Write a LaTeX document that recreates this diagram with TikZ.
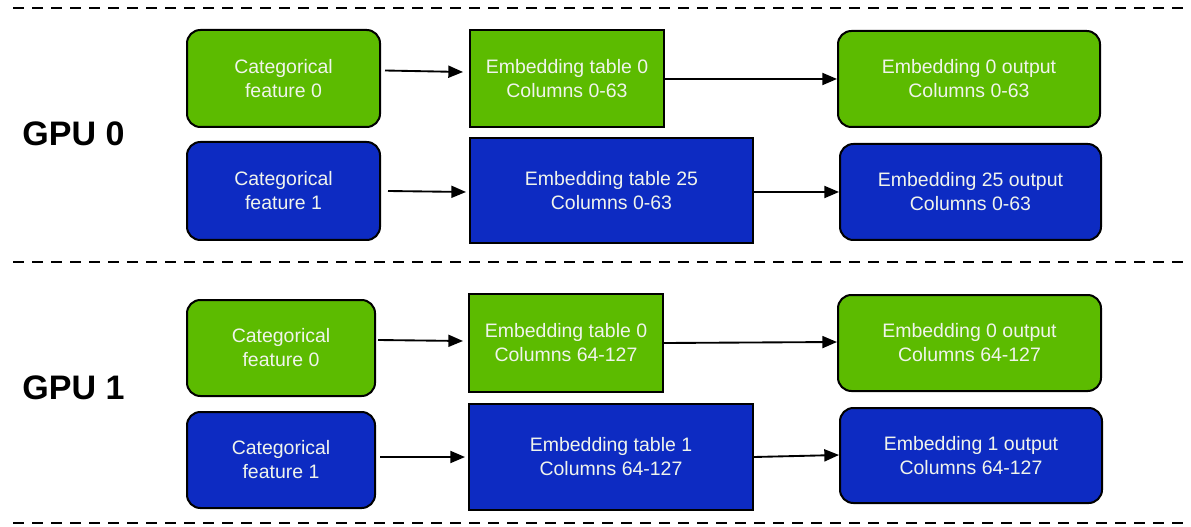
\documentclass[tikz,border=0pt]{standalone}
\usepackage{fontspec}
\setmainfont{Liberation Sans}
\usetikzlibrary{arrows.meta}
\definecolor{nvgreen}{RGB}{92,187,0}
\definecolor{nvblue}{RGB}{13,43,194}
\definecolor{boxtext}{RGB}{240,244,236}
\tikzset{
  box/.style={draw=black, line width=1.5pt, text=boxtext, align=center,
    inner sep=0pt, font=\fontsize{14.6pt}{18pt}\selectfont},
  roundbox/.style={box, rounded corners=10pt},
  greenfill/.style={fill=nvgreen},
  bluefill/.style={fill=nvblue},
  arr/.style={line width=1.4pt, -{Triangle[length=11pt,width=9pt]}},
  divider/.style={line width=1.6pt, dash pattern=on 8.25pt off 6pt},
  gpulabel/.style={font=\fontsize{25.5pt}{30pt}\selectfont\bfseries}
}
\begin{document}
\begin{tikzpicture}[x=0.75pt,y=-0.75pt]
\useasboundingbox (0,0) rectangle (1191,527);

% section dividers
\coordinate (d0l) at (13,8);    \coordinate (d0r) at (1183,8);
\coordinate (d1l) at (13,262);  \coordinate (d1r) at (1183,262);
\coordinate (d2l) at (13,523);  \coordinate (d2r) at (1183,523);
\draw[divider] (d0l) -- (d0r);
\draw[divider] (d1l) -- (d1r);
\draw[divider] (d2l) -- (d2r);

% GPU labels
\node[gpulabel] (gpu0) at (73.5,134) {GPU 0};
\node[gpulabel] (gpu1) at (73.5,388) {GPU 1};

% GPU 0
\node[roundbox, greenfill, minimum width=193*0.75pt, minimum height=97*0.75pt] (c00) at (283.5,78.5) {Categorical\\feature 0};
\node[box, greenfill, minimum width=194*0.75pt, minimum height=97*0.75pt] (t00) at (567,78.5) {Embedding table 0\\Columns 0-63};
\node[roundbox, greenfill, minimum width=262*0.75pt, minimum height=96*0.75pt] (o00) at (969,79) {Embedding 0 output\\Columns 0-63};
\node[roundbox, bluefill, minimum width=193*0.75pt, minimum height=98*0.75pt] (c01) at (283.5,191) {Categorical\\feature 1};
\node[box, bluefill, minimum width=283*0.75pt, minimum height=105*0.75pt] (t25) at (611.5,190.5) {Embedding table 25\\Columns 0-63};
\node[roundbox, bluefill, minimum width=261*0.75pt, minimum height=96*0.75pt] (o25) at (970.5,192) {Embedding 25 output\\Columns 0-63};

\draw[arr] ([shift={(4,-8)}]c00.east) -- ([shift={(-6,-6.5)}]t00.west);
\draw[arr] ([shift={(0,0.5)}]t00.east) -- (o00.west);
\draw[arr] ([shift={(7,0)}]c01.east) -- ([shift={(-3,1.5)}]t25.west);
\draw[arr] ([shift={(0,1.5)}]t25.east) -- (o25.west);

% GPU 1
\node[roundbox, greenfill, minimum width=188*0.75pt, minimum height=96*0.75pt] (c10) at (281,348) {Categorical\\feature 0};
\node[box, greenfill, minimum width=194*0.75pt, minimum height=98*0.75pt] (t10) at (566,343) {Embedding table 0\\Columns 64-127};
\node[roundbox, greenfill, minimum width=263*0.75pt, minimum height=96*0.75pt] (o10) at (969.5,343) {Embedding 0 output\\Columns 64-127};
\node[roundbox, bluefill, minimum width=188*0.75pt, minimum height=96*0.75pt] (c11) at (281,460) {Categorical\\feature 1};
\node[box, bluefill, minimum width=284*0.75pt, minimum height=106*0.75pt] (t11) at (611,457) {Embedding table 1\\Columns 64-127};
\node[roundbox, bluefill, minimum width=262*0.75pt, minimum height=95*0.75pt] (o11) at (971,455.5) {Embedding 1 output\\Columns 64-127};

\draw[arr] ([shift={(2,-8)}]c10.east) -- ([shift={(-5,-2)}]t10.west);
\draw[arr] (t10.east) -- ([shift={(0,-1)}]o10.west);
\draw[arr] ([shift={(4,-3)}]c11.east) -- ([shift={(-3,0)}]t11.west);
\draw[arr] (t11.east) -- ([shift={(0,-0.5)}]o11.west);
\end{tikzpicture}
\end{document}
